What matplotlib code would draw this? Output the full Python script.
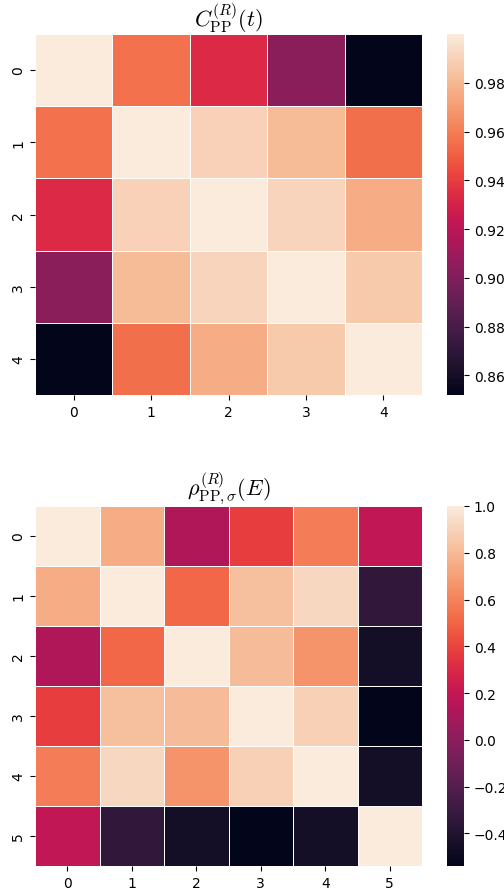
import numpy as np
import matplotlib
matplotlib.use("Agg")
import matplotlib.pyplot as plt
import seaborn as sns

plt.rcParams['mathtext.fontset'] = 'cm'

# Top matrix: C_PP^(R)(t), 5x5 symmetric
C_rows = [
    [1.000, 0.956, 0.933, 0.903, 0.852],
    [0.956, 1.000, 0.990, 0.981, 0.955],
    [0.933, 0.990, 1.000, 0.991, 0.976],
    [0.903, 0.981, 0.991, 1.000, 0.987],
    [0.852, 0.955, 0.976, 0.987, 1.000],
]

# Bottom matrix: rho_PP,sigma^(R)(E), 6x6 symmetric
rho_rows = [
    [1.00, 0.75, 0.13, 0.38, 0.58, 0.19],
    [0.75, 1.00, 0.51, 0.82, 0.92, -0.34],
    [0.13, 0.51, 1.00, 0.81, 0.66, -0.46],
    [0.38, 0.82, 0.81, 1.00, 0.89, -0.54],
    [0.58, 0.92, 0.66, 0.89, 1.00, -0.46],
    [0.19, -0.34, -0.46, -0.54, -0.46, 1.00],
]

C_labels = ["0", "1", "2", "3", "4"]
rho_labels = ["0", "1", "2", "3", "4", "5"]

title_top = r'$C^{(R)}_{\mathrm{PP}}(t)$'
title_bot = r'$\rho^{(R)}_{\mathrm{PP},\sigma}(E)$'

fig = plt.figure(figsize=(5.04, 8.95), dpi=100)
W, H = 504, 895

def box(x0, y0, x1, y1):
    return [x0 / W, 1 - y1 / H, (x1 - x0) / W, (y1 - y0) / H]

ax1 = fig.add_axes(box(35, 35, 422, 396))
cax1 = fig.add_axes(box(447, 35, 464, 396))
ax2 = fig.add_axes(box(35, 507, 422, 867))
cax2 = fig.add_axes(box(447, 507, 464, 867))

sns.heatmap(np.array(C_rows), ax=ax1, cbar_ax=cax1, cmap="rocket",
            linewidths=0.5, linecolor="white",
            xticklabels=C_labels, yticklabels=C_labels)
sns.heatmap(np.array(rho_rows), ax=ax2, cbar_ax=cax2, cmap="rocket",
            linewidths=0.5, linecolor="white",
            xticklabels=rho_labels, yticklabels=rho_labels)

ax1.set_title(title_top, fontsize=16, pad=4)
ax2.set_title(title_bot, fontsize=16, pad=4)

for ax in (ax1, ax2):
    plt.setp(ax.get_yticklabels(), rotation=90, va="center")
    plt.setp(ax.get_xticklabels(), rotation=0)

cax1.set_yticks([0.86, 0.88, 0.90, 0.92, 0.94, 0.96, 0.98])
cax2.set_yticks([-0.4, -0.2, 0.0, 0.2, 0.4, 0.6, 0.8, 1.0])

fig.savefig("out.png", dpi=100)
